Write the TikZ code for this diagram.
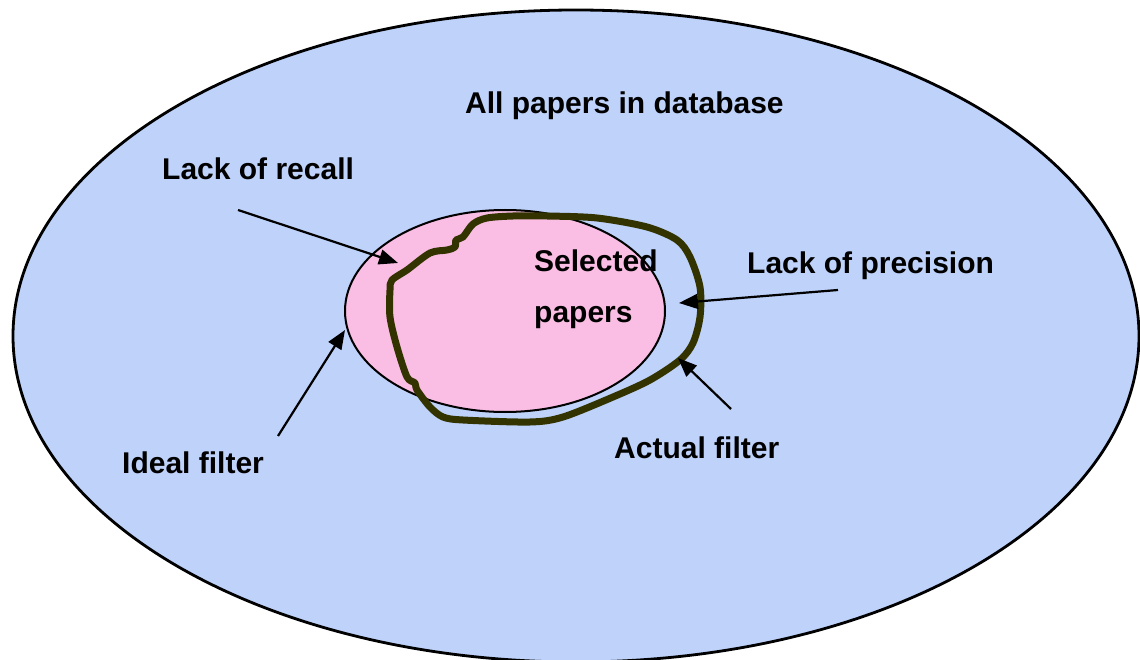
\documentclass[tikz,border=0pt]{standalone}
\usepackage{fontspec}
\setmainfont{Liberation Sans}
\usetikzlibrary{arrows.meta}
\definecolor{dbblue}{RGB}{190,210,250}
\definecolor{selpink}{RGB}{250,190,228}
\definecolor{filterolive}{RGB}{51,51,0}
\tikzset{
  lbl/.style={anchor=base west, inner sep=0pt, font=\fontsize{30}{35}\selectfont\bfseries},
  arr/.style={draw=black, line width=2.2pt, -{Triangle[length=19pt,width=15pt]}},
  actual/.style={draw=filterolive, line width=7pt, line join=round}
}
\begin{document}
\begin{tikzpicture}[x=1pt,y=-1pt]
\useasboundingbox (0,0) rectangle (1140,660);
% database ellipse
\draw[line width=2.8pt, fill=dbblue] (576,336) ellipse [x radius=563, y radius=326];
% ideal filter ellipse
\draw[line width=2pt, fill=selpink] (505,311) ellipse [x radius=160, y radius=101];
% actual filter
\draw[actual] plot[smooth cycle, tension=0.5] coordinates {
 (392,280) (407,270) (430,253) (447,250) (455,247) (456,240) (463,237) (473,224)
 (487,218) (513,216) (547,216) (597,218) (647,227) (677,240) (690,257) (700,287)
 (700,317) (693,343) (680,360) (650,380) (613,397) (563,417) (530,422) (463,420)
 (443,417) (430,407) (417,390) (415,383) (407,377) (397,347) (390,317) (390,290)};
% labels
\node[lbl] (all) at (465,114) {All papers in database};
\node[lbl] (recall) at (162,180) {Lack of recall};
\node[lbl] (sel1) at (534,272) {Selected};
\node[lbl] (sel2) at (534,322) {papers};
\node[lbl] (prec) at (747,273) {Lack of precision};
\node[lbl] (ideal) at (122,473) {Ideal filter};
\node[lbl] (actual) at (614,458) {Actual filter};
% arrow ends
\coordinate (recS) at (238,210);
\coordinate (recT) at (398,263);
\coordinate (idS) at (278,436);
\coordinate (idT) at (345,330);
\coordinate (prS) at (838,290);
\coordinate (prT) at (679,303);
\coordinate (acS) at (731,409);
\coordinate (acT) at (678,358);
\draw[arr] (recS) -- (recT);
\draw[arr] (idS) -- (idT);
\draw[arr] (prS) -- (prT);
\draw[arr] (acS) -- (acT);
\end{tikzpicture}
\end{document}
